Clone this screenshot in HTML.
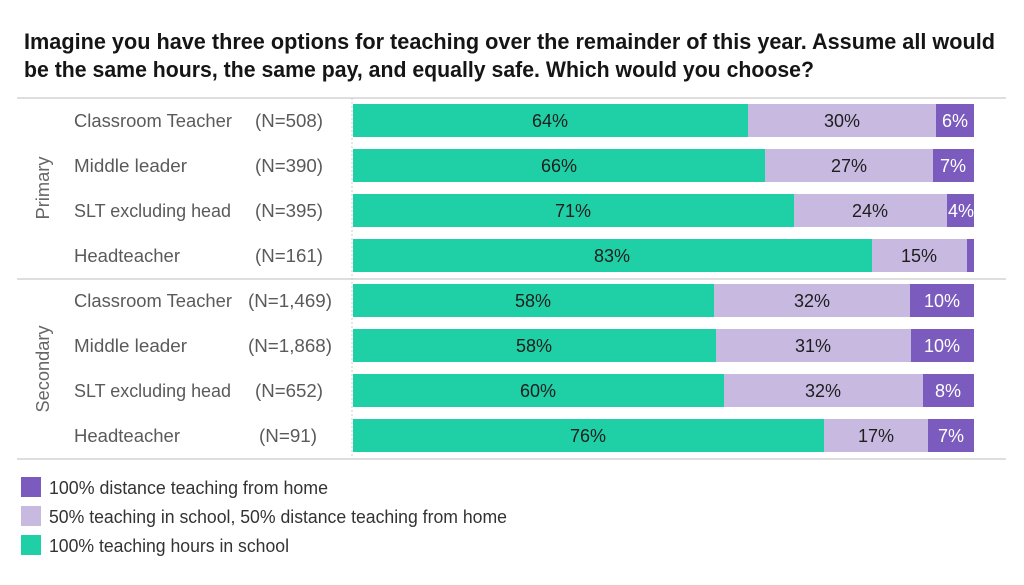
<!DOCTYPE html>
<html><head><meta charset="utf-8"><style>
html,body{margin:0;padding:0;background:#fff;}
svg{display:block;}
text{font-family:"Liberation Sans",sans-serif;}
</style></head><body>
<svg width="1024" height="585" viewBox="0 0 1024 585" xmlns="http://www.w3.org/2000/svg">
<rect width="1024" height="585" fill="#fff"/>
<!-- Title -->
<text x="24" y="49" font-size="22" font-weight="bold" fill="#151515" textLength="971" lengthAdjust="spacingAndGlyphs">Imagine you have three options for teaching over the remainder of this year. Assume all would</text>
<text x="24" y="77" font-size="22" font-weight="bold" fill="#151515" textLength="790" lengthAdjust="spacingAndGlyphs">be the same hours, the same pay, and equally safe. Which would you choose?</text>

<!-- grid lines -->
<line x1="17" y1="98" x2="1006" y2="98" stroke="#d4d4d4" stroke-width="1.5"/>
<line x1="17" y1="279" x2="1006" y2="279" stroke="#d4d4d4" stroke-width="1.5"/>
<line x1="17" y1="459" x2="1006" y2="459" stroke="#d4d4d4" stroke-width="1.5"/>
<line x1="352" y1="98" x2="352" y2="459" stroke="#cfcfcf" stroke-width="1" stroke-dasharray="2,2"/>

<!-- group labels -->
<text transform="translate(49,188) rotate(-90)" text-anchor="middle" font-size="18" fill="#666" textLength="63" lengthAdjust="spacingAndGlyphs">Primary</text>
<text transform="translate(49,369) rotate(-90)" text-anchor="middle" font-size="18" fill="#666" textLength="87" lengthAdjust="spacingAndGlyphs">Secondary</text>

<g font-size="18" fill="#5a5a5a">
<text x="74" y="127" textLength="158" lengthAdjust="spacingAndGlyphs">Classroom Teacher</text>
<text x="74" y="172" textLength="113" lengthAdjust="spacingAndGlyphs">Middle leader</text>
<text x="74" y="217" textLength="157" lengthAdjust="spacingAndGlyphs">SLT excluding head</text>
<text x="74" y="262" textLength="106" lengthAdjust="spacingAndGlyphs">Headteacher</text>
<text x="74" y="307" textLength="158" lengthAdjust="spacingAndGlyphs">Classroom Teacher</text>
<text x="74" y="352" textLength="113" lengthAdjust="spacingAndGlyphs">Middle leader</text>
<text x="74" y="397" textLength="157" lengthAdjust="spacingAndGlyphs">SLT excluding head</text>
<text x="74" y="442" textLength="106" lengthAdjust="spacingAndGlyphs">Headteacher</text>

<text x="255" y="127" textLength="68" lengthAdjust="spacingAndGlyphs">(N=508)</text>
<text x="255" y="172" textLength="68" lengthAdjust="spacingAndGlyphs">(N=390)</text>
<text x="255" y="217" textLength="68" lengthAdjust="spacingAndGlyphs">(N=395)</text>
<text x="255" y="262" textLength="68" lengthAdjust="spacingAndGlyphs">(N=161)</text>
<text x="248" y="307" textLength="84" lengthAdjust="spacingAndGlyphs">(N=1,469)</text>
<text x="248" y="352" textLength="84" lengthAdjust="spacingAndGlyphs">(N=1,868)</text>
<text x="255" y="397" textLength="68" lengthAdjust="spacingAndGlyphs">(N=652)</text>
<text x="259" y="442" textLength="58" lengthAdjust="spacingAndGlyphs">(N=91)</text>
</g>

<!-- bars -->
<g>
<!-- row1 -->
<rect x="353" y="104" width="395" height="33" fill="#1fcfa5"/>
<rect x="748" y="104" width="188" height="33" fill="#c7b9e0"/>
<rect x="936" y="104" width="38" height="33" fill="#7b5bbd"/>
<!-- row2 -->
<rect x="353" y="149" width="412" height="33" fill="#1fcfa5"/>
<rect x="765" y="149" width="168" height="33" fill="#c7b9e0"/>
<rect x="933" y="149" width="41" height="33" fill="#7b5bbd"/>
<!-- row3 -->
<rect x="353" y="194" width="441" height="33" fill="#1fcfa5"/>
<rect x="794" y="194" width="153" height="33" fill="#c7b9e0"/>
<rect x="947" y="194" width="27" height="33" fill="#7b5bbd"/>
<!-- row4 -->
<rect x="353" y="239" width="519" height="33" fill="#1fcfa5"/>
<rect x="872" y="239" width="95" height="33" fill="#c7b9e0"/>
<rect x="967" y="239" width="7" height="33" fill="#7b5bbd"/>
<!-- row5 -->
<rect x="353" y="284" width="361" height="33" fill="#1fcfa5"/>
<rect x="714" y="284" width="196" height="33" fill="#c7b9e0"/>
<rect x="910" y="284" width="64" height="33" fill="#7b5bbd"/>
<!-- row6 -->
<rect x="353" y="329" width="363" height="33" fill="#1fcfa5"/>
<rect x="716" y="329" width="195" height="33" fill="#c7b9e0"/>
<rect x="911" y="329" width="63" height="33" fill="#7b5bbd"/>
<!-- row7 -->
<rect x="353" y="374" width="371" height="33" fill="#1fcfa5"/>
<rect x="724" y="374" width="199" height="33" fill="#c7b9e0"/>
<rect x="923" y="374" width="51" height="33" fill="#7b5bbd"/>
<!-- row8 -->
<rect x="353" y="419" width="471" height="33" fill="#1fcfa5"/>
<rect x="824" y="419" width="104" height="33" fill="#c7b9e0"/>
<rect x="928" y="419" width="46" height="33" fill="#7b5bbd"/>
</g>

<!-- bar labels -->
<g font-size="18" text-anchor="middle" fill="#1e1e1e">
<text x="550" y="127">64%</text>
<text x="842" y="127">30%</text>
<text x="559" y="172">66%</text>
<text x="849" y="172">27%</text>
<text x="573" y="217">71%</text>
<text x="870" y="217">24%</text>
<text x="612" y="262">83%</text>
<text x="919" y="262">15%</text>
<text x="533" y="307">58%</text>
<text x="812" y="307">32%</text>
<text x="534" y="352">58%</text>
<text x="813" y="352">31%</text>
<text x="538" y="397">60%</text>
<text x="823" y="397">32%</text>
<text x="588" y="442">76%</text>
<text x="876" y="442">17%</text>
</g>
<g font-size="18" text-anchor="middle" fill="#ffffff">
<text x="955" y="127">6%</text>
<text x="953" y="172">7%</text>
<text x="961" y="217">4%</text>
<text x="942" y="307">10%</text>
<text x="942" y="352">10%</text>
<text x="948" y="397">8%</text>
<text x="951" y="442">7%</text>
</g>

<!-- legend -->
<rect x="21" y="477" width="20" height="20" fill="#7b5bbd"/>
<rect x="21" y="506" width="20" height="20" fill="#c7b9e0"/>
<rect x="21" y="535" width="20" height="20" fill="#1fcfa5"/>
<g font-size="18" fill="#333">
<text x="49" y="494" textLength="279" lengthAdjust="spacingAndGlyphs">100% distance teaching from home</text>
<text x="49" y="523" textLength="458" lengthAdjust="spacingAndGlyphs">50% teaching in school, 50% distance teaching from home</text>
<text x="49" y="552" textLength="240" lengthAdjust="spacingAndGlyphs">100% teaching hours in school</text>
</g>
</svg>
</body></html>
